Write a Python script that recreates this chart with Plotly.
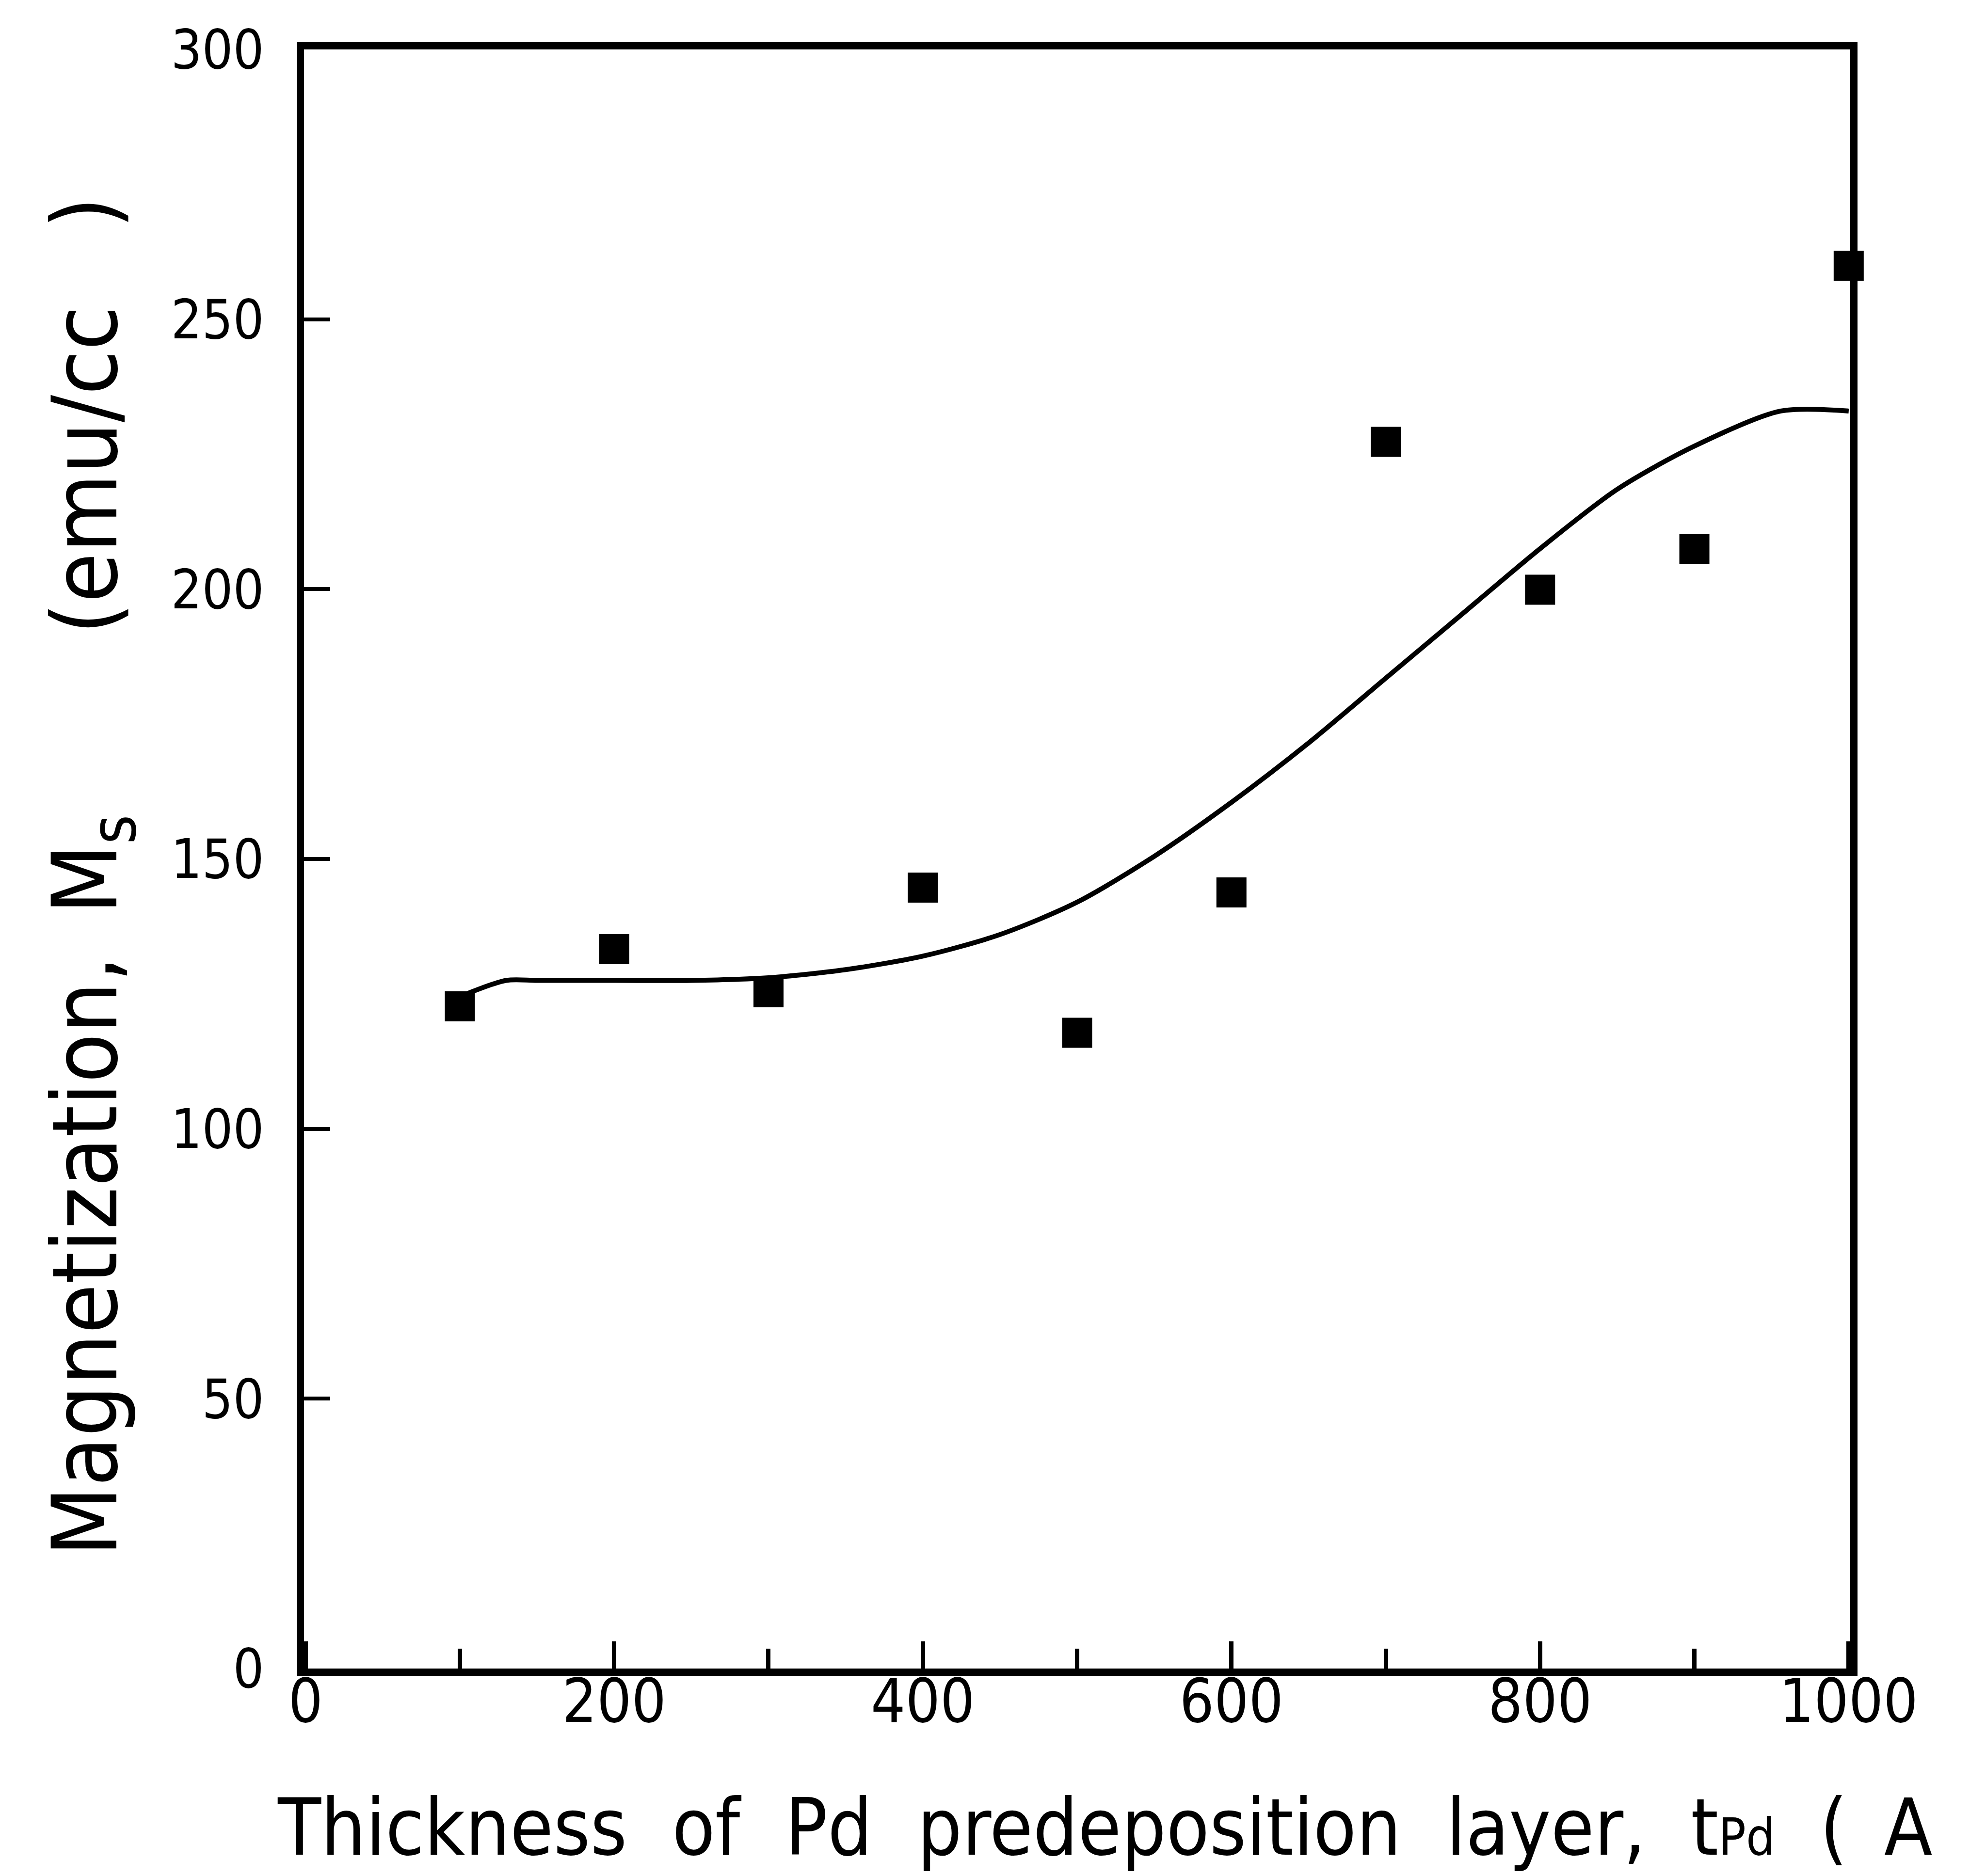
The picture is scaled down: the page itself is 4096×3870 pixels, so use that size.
import plotly.graph_objects as go

# ---------------- data ----------------
thickness = [100, 200, 300, 400, 500, 600, 700, 800, 900, 1000]
magnetization = [122.7, 133.3, 125.3, 144.7, 117.8, 143.8, 227.3, 199.9, 207.4, 259.9]

fit_x = [100, 130, 150, 200, 250, 300, 350, 400, 450, 500, 550, 600,
         650, 700, 750, 800, 850, 900, 956, 1000]
fit_y = [124.5, 127.5, 127.5, 127.5, 127.5, 128, 129.5, 132, 136, 142, 150.5, 160.5,
         171.5, 183.5, 195.5, 207.5, 218.5, 226.5, 233, 233]

x_major = [0, 200, 400, 600, 800, 1000]
x_minor = [100, 300, 500, 700, 900]
y_ticks = [0, 50, 100, 150, 200, 250, 300]

NB = "\u00a0"
x_title = ("Thickness" + NB * 2 + "of" + NB * 2 + "Pd" + NB * 2 + "predeposition"
           + NB * 2 + "layer," + NB * 2 + "t<span style='font-size:105px'>Pd</span>"
           + NB * 2 + "(" + NB + "\u2009" + "A")
y_title = ("Magnetization," + NB + "\u2009" + "M<sub>s</sub>" + NB * 7
           + "(emu/cc" + NB * 3 + ")")

# ---------------- geometry ----------------
W, H = 4096, 3870
s = 0.986
L, R, T, B = 628 * s, 3862 * s, 95 * s, 3483 * s
PW, PH = R - L, B - T


def px2paper_x(px):
    return (px - L) / PW


def px2paper_y(py):
    return (B - py) / PH


FONT = "DejaVu Sans Condensed, DejaVu Sans, sans-serif"

fig = go.Figure()
fig.add_trace(go.Scatter(
    x=fit_x, y=fit_y, mode="lines",
    line=dict(color="black", width=10, shape="spline", smoothing=0.8),
    showlegend=False, hoverinfo="skip"))
fig.add_trace(go.Scatter(
    x=thickness, y=magnetization, mode="markers", cliponaxis=False,
    marker=dict(symbol="square", size=62, color="black", line=dict(width=0)),
    showlegend=False))

axis_common = dict(
    showline=True, linecolor="black", linewidth=15 * s, mirror=True,
    showgrid=False, zeroline=False, ticks="inside", tickcolor="black",
)

fig.update_xaxes(
    range=[-1, 1001], tickmode="array", tickvals=x_major,
    ticktext=[str(v) for v in x_major], ticklen=57 * s, tickwidth=9 * s,
    minor=dict(tickmode="array", tickvals=x_minor, ticks="inside",
               ticklen=42 * s, tickwidth=9 * s, tickcolor="black"),
    tickfont=dict(family=FONT, size=125, color="black"),
    ticklabelstandoff=-55,
    **axis_common)
fig.update_yaxes(
    range=[0, 300], tickmode="array", tickvals=y_ticks,
    ticktext=[str(v) for v in y_ticks], ticklen=55 * s, tickwidth=8 * s,
    tickfont=dict(family=FONT, size=112, color="black"),
    ticklabelstandoff=45,
    **axis_common)

fig.add_annotation(
    text=x_title, xref="paper", yref="paper",
    x=px2paper_x(570 * s), y=px2paper_y(3762),
    xanchor="left", yanchor="middle", showarrow=False,
    font=dict(family=FONT, size=162, color="black"))
fig.add_annotation(
    text=y_title, xref="paper", yref="paper", textangle=-90,
    x=px2paper_x(180), y=px2paper_y(1800),
    xanchor="center", yanchor="middle", showarrow=False,
    font=dict(family=FONT, size=186, color="black"))

fig.update_layout(
    width=W, height=H, autosize=False,
    margin=dict(l=L, r=W - R, t=T, b=H - B, pad=0),
    plot_bgcolor="white", paper_bgcolor="white",
    showlegend=False,
)

fig.write_html("out.html")
